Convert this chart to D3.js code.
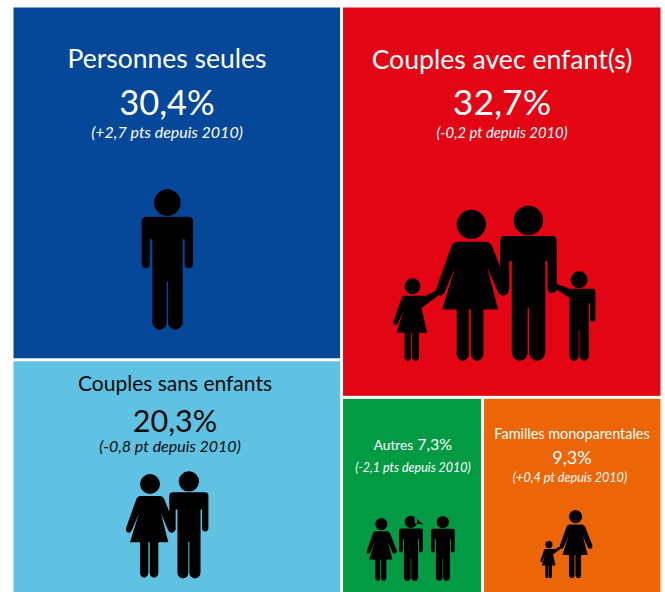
<!DOCTYPE html>
<html>
<head>
<meta charset="utf-8">
<script src="https://cdn.jsdelivr.net/npm/d3@7"></script>
<style>
  html, body { margin: 0; background: #fff; }
  svg { display: block; }
  text { font-family: Lato, "Open Sans", sans-serif; text-anchor: middle; }
</style>
</head>
<body>
<div id="chart"></div>
<script>
// values
const categories = ["Personnes seules", "Couples sans enfants", "Couples avec enfant(s)", "Autres", "Familles monoparentales"];
const shares = [30.4, 20.3, 32.7, 7.3, 9.3];
const shareLabels = ["30,4%", "20,3%", "32,7%", "7,3%", "9,3%"];
const changes = ["(+2,7 pts depuis 2010)", "(-0,8 pt depuis 2010)", "(-0,2 pt depuis 2010)", "(-2,1 pts depuis 2010)", "(+0,4 pt depuis 2010)"];
const tileColors = ["#05489a", "#5fc2e2", "#e30513", "#029a43", "#ec6608"];
const inkColors = ["#fff", "#0a0a0a", "#fff", "#fff", "#fff"];

const width = 665, height = 592;

// text placement per tile: centre x, baselines and font sizes
const textLayout = [
  {cx: 167, title: [68, 26.5], value: [115, 34.5], note: [138, 16]},
  {cx: 175, title: [391, 21], value: [432, 30.5], note: [452, 16], noteCx: 170},
  {cx: 502, title: [69, 26.6], value: [115, 35.5], note: [138, 14.8]},
  {cx: 413, title: [450, 13.6], value: null, note: [472, 12.5]},
  {cx: 572, title: [439, 14.4], value: [464, 18], note: [482, 12.6], noteCx: 570}
];

function head(cx, cy, r) {
  return "M" + (cx - r) + "," + cy + "a" + r + "," + r + " 0 1,0 " + (2 * r) + ",0a" + r + "," + r + " 0 1,0 " + (-2 * r) + ",0Z";
}

// pictogram outlines, in their own unit box
const manHead = head(77, 40, 40);
const manLegs = "V150H123V398Q122,417 101,422Q79,417 79,398V277H75V398Q75,417 54,422Q32,417 32,398V";
const womanHead = head(72, 30, 30);
const womanLegs = "L127,205H97V296Q97,308 84,311Q71,308 71,296V205H67V296Q67,308 54,311Q42,308 42,296V205H12L39,118L18,168Q14,178 6,176Q-3,172 1,160L30,78Q34,66 44,66Z";
const glyphs = {
  man: manHead + "M14,82H140Q154,82 154,96V222Q154,237 141,237Q129,237 129,222" + manLegs + "150H25V222Q25,237 12,237Q0,237 0,222V96Q0,82 14,82Z",
  capMan: manHead + "M100,8L157,56L104,50ZM14,82H140Q154,82 154,96V222Q154,237 141,237Q129,237 129,222" + manLegs + "150H25V222Q25,237 12,237Q0,237 0,222V96Q0,82 14,82Z",
  boy: manHead + "M-28,60L34,82H140Q154,82 154,96V222Q154,237 141,237Q129,237 129,222" + manLegs + "124L-36,82Q-38,62 -28,60Z",
  woman: womanHead + "M44,66H100Q112,66 116,78L147,158Q152,172 140,176Q130,178 126,168L105,118" + womanLegs,
  girl: womanHead + "M44,66H123L169,41Q182,36 190,50L106,112" + womanLegs
};

// which figures stand in which tile: [glyph, left, top, scale]
const figures = [
  [["man", 141.7, 189.3, 0.3333]],
  [["woman", 126, 474, 0.3333], ["man", 169.3, 471.3, 0.254]],
  [["woman", 436.2, 209.7, 0.487], ["man", 500, 205.7, 0.368], ["girl", 393.3, 278.3, 0.266], ["boy", 562.7, 271.3, 0.2125]],
  [["woman", 366.7, 518, 0.2026], ["capMan", 399, 515.7, 0.155], ["man", 431, 516, 0.154]],
  [["woman", 559.8, 510, 0.2197], ["girl", 540.3, 541, 0.12]]
];

const rows = categories.map(function(d, i) { return {id: i, name: d, value: shares[i]}; });

// left column, then right column with the two small tiles in a row
const tree = {children: [
  {children: [rows[0], rows[1]]},
  {children: [rows[2], {children: [rows[3], rows[4]]}]}
]};

const root = d3.hierarchy(tree).sum(function(d) { return d.value || 0; });
d3.treemap()
  .tile(d3.treemapSliceDice)
  .paddingInner(3)
  .size([647, 587])(root);

const svg = d3.select("#chart").append("svg")
  .attr("width", width)
  .attr("height", height);

const tiles = svg.append("g")
  .attr("transform", "translate(13.5,7.5)");

tiles.selectAll("rect")
  .data(root.leaves())
  .enter()
  .append("rect")
  .attr("x", function(d) { return d.x0; })
  .attr("y", function(d) { return d.y0; })
  .attr("width", function(d) { return d.x1 - d.x0; })
  .attr("height", function(d) { return d.y1 - d.y0; })
  .attr("fill", function(d) { return tileColors[d.data.id]; });

rows.forEach(function(row, i) {
  const t = textLayout[i];
  const g = svg.append("g").attr("fill", inkColors[i]);

  const title = g.append("text")
    .attr("x", t.cx)
    .attr("y", t.title[0])
    .style("font-size", t.title[1] + "px")
    .text(row.name);

  if (t.value) {
    g.append("text")
      .attr("x", t.cx)
      .attr("y", t.value[0])
      .style("font-size", t.value[1] + "px")
      .text(shareLabels[i]);
  } else {
    // "Autres" keeps its value on the same line
    title.append("tspan").style("font-size", "16px").text(" " + shareLabels[i]);
  }

  g.append("text")
    .attr("x", t.noteCx || t.cx)
    .attr("y", t.note[0])
    .style("font-size", t.note[1] + "px")
    .style("font-style", "italic")
    .text(changes[i]);

  g.selectAll("path")
    .data(figures[i])
    .enter()
    .append("path")
    .attr("transform", function(d) { return "translate(" + d[1] + "," + d[2] + ") scale(" + d[3] + ")"; })
    .attr("d", function(d) { return glyphs[d[0]]; })
    .attr("fill", "#000");
});
</script>
</body>
</html>
